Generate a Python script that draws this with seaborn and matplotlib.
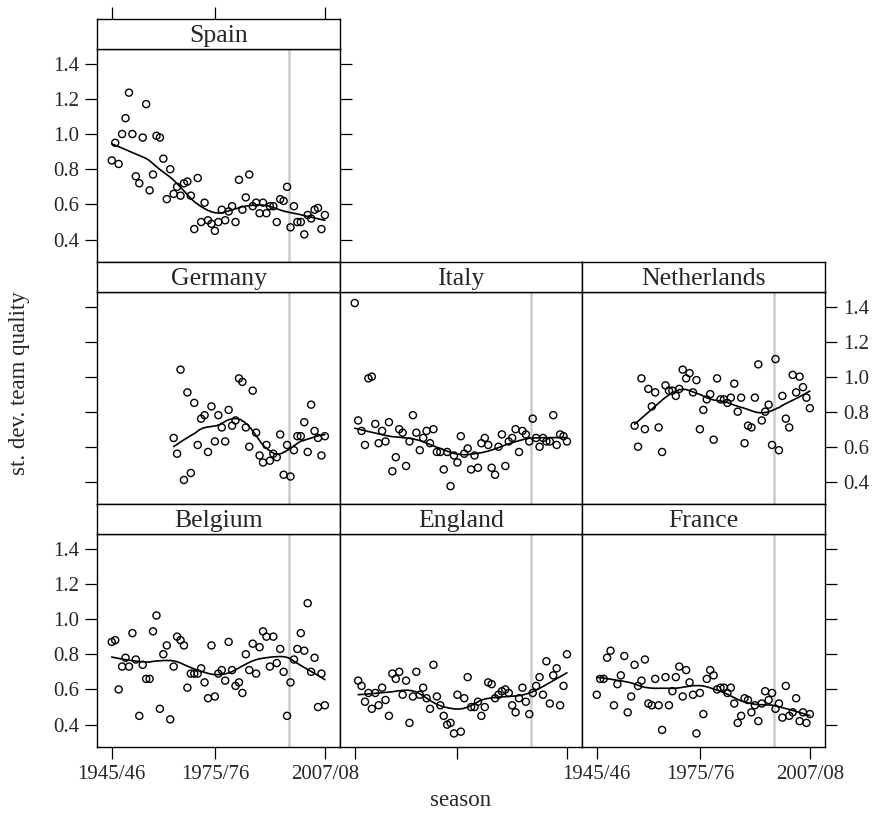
import numpy as np
import pandas as pd
import matplotlib
matplotlib.use("Agg")
import matplotlib.pyplot as plt
import seaborn as sns

# ---------------- data (st. dev. of team quality per season) ----------------
spain_start = 1945
spain = [0.85, 0.95, 0.83, 1.00, 1.09, 1.235, 1.00, 0.76, 0.72, 0.98, 1.17, 0.68,
         0.77, 0.99, 0.98, 0.86, 0.63, 0.80, 0.66, 0.70, 0.65, 0.72, 0.73, 0.65,
         0.46, 0.75, 0.50, 0.61, 0.51, 0.49, 0.45, 0.50, 0.57, 0.51, 0.56, 0.59,
         0.50, 0.74, 0.57, 0.64, 0.77, 0.59, 0.61, 0.55, 0.61, 0.55, 0.59, 0.59,
         0.50, 0.63, 0.62, 0.70, 0.47, 0.59, 0.50, 0.50, 0.43, 0.54, 0.52, 0.57,
         0.58, 0.46, 0.54]

germany_start = 1963
germany = [0.65, 0.56, 1.04, 0.41, 0.91, 0.45, 0.85, 0.61, 0.76, 0.78, 0.57, 0.83,
           0.63, 0.78, 0.71, 0.63, 0.81, 0.72, 0.75, 0.99, 0.97, 0.71, 0.60, 0.92,
           0.68, 0.55, 0.51, 0.61, 0.52, 0.56, 0.54, 0.67, 0.44, 0.61, 0.43, 0.58,
           0.66, 0.66, 0.74, 0.57, 0.84, 0.69, 0.65, 0.55, 0.66]

italy_start = 1945
italy = [1.42, 0.75, 0.69, 0.61, 0.99, 1.00, 0.73, 0.62, 0.69, 0.63, 0.74, 0.46,
         0.54, 0.70, 0.68, 0.49, 0.63, 0.78, 0.68, 0.58, 0.65, 0.69, 0.62, 0.70,
         0.57, 0.57, 0.47, 0.57, 0.375, 0.55, 0.51, 0.66, 0.56, 0.59, 0.47, 0.55,
         0.48, 0.62, 0.65, 0.61, 0.48, 0.44, 0.60, 0.67, 0.49, 0.63, 0.65, 0.70,
         0.57, 0.69, 0.67, 0.63, 0.76, 0.65, 0.60, 0.65, 0.63, 0.63, 0.78, 0.61,
         0.67, 0.66, 0.63]

netherlands_start = 1956
netherlands = [0.72, 0.60, 0.99, 0.70, 0.93, 0.83, 0.91, 0.71, 0.57, 0.95, 0.92, 0.92,
               0.89, 0.93, 1.04, 0.99, 1.02, 0.91, 0.98, 0.70, 0.81, 0.87, 0.90, 0.64,
               0.99, 0.87, 0.87, 0.85, 0.88, 0.96, 0.80, 0.88, 0.62, 0.72, 0.71, 0.88,
               1.07, 0.75, 0.80, 0.84, 0.61, 1.10, 0.58, 0.89, 0.76, 0.71, 1.01, 0.91,
               1.00, 0.94, 0.88, 0.82]

belgium_start = 1945
belgium = [0.87, 0.88, 0.60, 0.73, 0.78, 0.73, 0.92, 0.77, 0.45, 0.74, 0.66, 0.66,
           0.93, 1.02, 0.49, 0.80, 0.85, 0.43, 0.73, 0.90, 0.88, 0.85, 0.61, 0.69,
           0.69, 0.69, 0.72, 0.64, 0.55, 0.85, 0.56, 0.69, 0.71, 0.65, 0.87, 0.71,
           0.62, 0.64, 0.58, 0.80, 0.71, 0.86, 0.69, 0.84, 0.93, 0.90, 0.73, 0.90,
           0.75, 0.83, 0.70, 0.45, 0.64, 0.77, 0.83, 0.92, 0.82, 1.09, 0.70, 0.78,
           0.50, 0.69, 0.51]

england_start = 1946
england = [0.65, 0.62, 0.53, 0.58, 0.49, 0.58, 0.51, 0.61, 0.54, 0.45, 0.69, 0.66,
           0.70, 0.57, 0.65, 0.41, 0.56, 0.70, 0.57, 0.61, 0.55, 0.49, 0.74, 0.56,
           0.51, 0.45, 0.40, 0.41, 0.35, 0.57, 0.36, 0.55, 0.67, 0.50, 0.50, 0.53,
           0.45, 0.50, 0.64, 0.63, 0.55, 0.57, 0.59, 0.60, 0.58, 0.51, 0.47, 0.55,
           0.61, 0.53, 0.46, 0.58, 0.62, 0.67, 0.57, 0.76, 0.52, 0.68, 0.72, 0.51,
           0.62, 0.80]

france_start = 1945
france = [0.57, 0.66, 0.66, 0.78, 0.82, 0.51, 0.63, 0.68, 0.79, 0.47, 0.56, 0.74,
          0.62, 0.65, 0.77, 0.52, 0.51, 0.66, 0.51, 0.37, 0.67, 0.51, 0.59, 0.67,
          0.73, 0.56, 0.71, 0.64, 0.57, 0.35, 0.58, 0.46, 0.66, 0.71, 0.68, 0.60,
          0.61, 0.61, 0.58, 0.61, 0.52, 0.41, 0.45, 0.55, 0.54, 0.47, 0.51, 0.42,
          0.52, 0.59, 0.54, 0.58, 0.49, 0.52, 0.44, 0.62, 0.45, 0.47, 0.55, 0.42,
          0.47, 0.41, 0.46]

tick_years = [1945, 1975, 2007]
tick_labels = ["1945/46", "1975/76", "2007/08"]
y_ticks = [0.4, 0.6, 0.8, 1.0, 1.2, 1.4]
y_ticklabels = ["0.4", "0.6", "0.8", "1.0", "1.2", "1.4"]
bosman_season = 1996.6

panels = {
    "Spain": (spain_start, spain),
    "Germany": (germany_start, germany),
    "Italy": (italy_start, italy),
    "Netherlands": (netherlands_start, netherlands),
    "Belgium": (belgium_start, belgium),
    "England": (england_start, england),
    "France": (france_start, france),
}

rows = []
for name, (start, vals) in panels.items():
    for i, v in enumerate(vals):
        rows.append({"country": name, "season": start + i, "sd": v})
df = pd.DataFrame(rows)


def _local_fit(x, y, g, k, degree, rw):
    d = np.abs(x - g)
    h = np.sort(d)[k - 1] * 1.0001
    w = np.clip(1 - (d / h) ** 3, 0, None) ** 3 * rw
    coef = np.polyfit(x - g, y, degree, w=np.sqrt(w + 1e-12))
    return coef[-1]


def loess(x, y, grid, frac=0.35, degree=1, iters=3):
    """Robust locally weighted regression (Cleveland's lowess)."""
    x = np.asarray(x, float)
    y = np.asarray(y, float)
    n = len(x)
    k = max(int(np.ceil(frac * n)), degree + 2)
    rw = np.ones(n)
    for _ in range(iters):
        fit = np.array([_local_fit(x, y, xi, k, degree, rw) for xi in x])
        res = y - fit
        s = np.median(np.abs(res))
        u = res / (6 * s)
        rw = np.clip(1 - u ** 2, 0, None) ** 2
    return np.array([_local_fit(x, y, g, k, degree, rw) for g in grid])


# ---------------- figure layout ----------------
W, H = 876, 816
sns.set_theme(style="white")
plt.rcParams["font.family"] = ["Liberation Serif", "DejaVu Serif"]
plt.rcParams["axes.linewidth"] = 1.0

fig = plt.figure(figsize=(W / 100, H / 100), dpi=100)

col_x = [97, 340, 582, 825]
row_strip_top = [19, 262, 504]
strip_h = 30
row_plot = [(49, 262), (292, 504), (534, 747)]

layout = {
    "Spain": (0, 0),
    "Germany": (1, 0), "Italy": (1, 1), "Netherlands": (1, 2),
    "Belgium": (2, 0), "England": (2, 1), "France": (2, 2),
}

XLIM = (1940.7, 2011.4)
YLIM = (0.273, 1.483)
tick_len = 8.8
fs_tick = 15
fs_strip = 18.5


def px_rect(x0, x1, ytop, ybot):
    return [x0 / W, 1 - ybot / H, (x1 - x0) / W, (ybot - ytop) / H]


for name, (r, c) in layout.items():
    x0, x1 = col_x[c], col_x[c + 1]
    ytop, ybot = row_plot[r]
    ax = fig.add_axes(px_rect(x0, x1, ytop, ybot))
    sub = df[df["country"] == name]
    ax.axvline(bosman_season, color="#cccccc", lw=1.8, zorder=0)
    sns.scatterplot(data=sub, x="season", y="sd", ax=ax, marker="o",
                    facecolors="none", edgecolor="black", linewidths=1.0,
                    s=26, legend=False, zorder=3)
    grid = np.linspace(sub["season"].min(), sub["season"].max(), 200)
    smooth = pd.DataFrame({"season": grid,
                           "sd": loess(sub["season"], sub["sd"], grid)})
    sns.lineplot(data=smooth, x="season", y="sd", ax=ax, color="black",
                 lw=1.2, zorder=4)
    ax.set_xlim(*XLIM)
    ax.set_ylim(*YLIM)
    ax.set_xlabel("")
    ax.set_ylabel("")
    for s in ax.spines.values():
        s.set_color("black")
        s.set_linewidth(1.0)
    ax.set_xticks(tick_years)
    ax.set_yticks(y_ticks)
    ax.tick_params(axis="both", direction="out", length=tick_len, width=0.9,
                   color="black", labelsize=fs_tick, pad=4,
                   bottom=False, top=False, left=False, right=False,
                   labelbottom=False, labeltop=False, labelleft=False,
                   labelright=False)
    if r == 2:
        ax.tick_params(axis="x", bottom=True, labelbottom=(c != 1))
        ax.set_xticklabels(tick_labels)
    if c == 0:
        ax.tick_params(axis="y", left=True, labelleft=(r != 1))
        ax.set_yticklabels(y_ticklabels)
    if (r == 0 and c == 0) or c == 2:
        ax.tick_params(axis="y", right=True, labelright=(r == 1))
        ax.set_yticklabels(y_ticklabels)

    # strip
    sax = fig.add_axes(px_rect(x0, x1, row_strip_top[r], row_strip_top[r] + strip_h))
    sax.set_xlim(*XLIM)
    sax.set_ylim(0, 1)
    sax.set_facecolor("white")
    for s in sax.spines.values():
        s.set_color("black")
        s.set_linewidth(1.0)
    sax.set_yticks([])
    sax.set_xticks(tick_years if r == 0 else [])
    sax.tick_params(axis="x", direction="out", length=tick_len, width=0.9,
                    color="black", bottom=False, top=(r == 0),
                    labelbottom=False, labeltop=False)
    sax.text(0.5, 0.42, name, ha="center", va="center", fontsize=fs_strip,
             transform=sax.transAxes)

fig.text(20 / W, 1 - 383 / H, "st. dev. team quality", rotation=90,
         ha="center", va="center", fontsize=16.5)
fig.text(461 / W, 1 - 800 / H, "season", ha="center", va="center",
         fontsize=16.5)

fig.savefig("out.png", dpi=100, facecolor="white")
